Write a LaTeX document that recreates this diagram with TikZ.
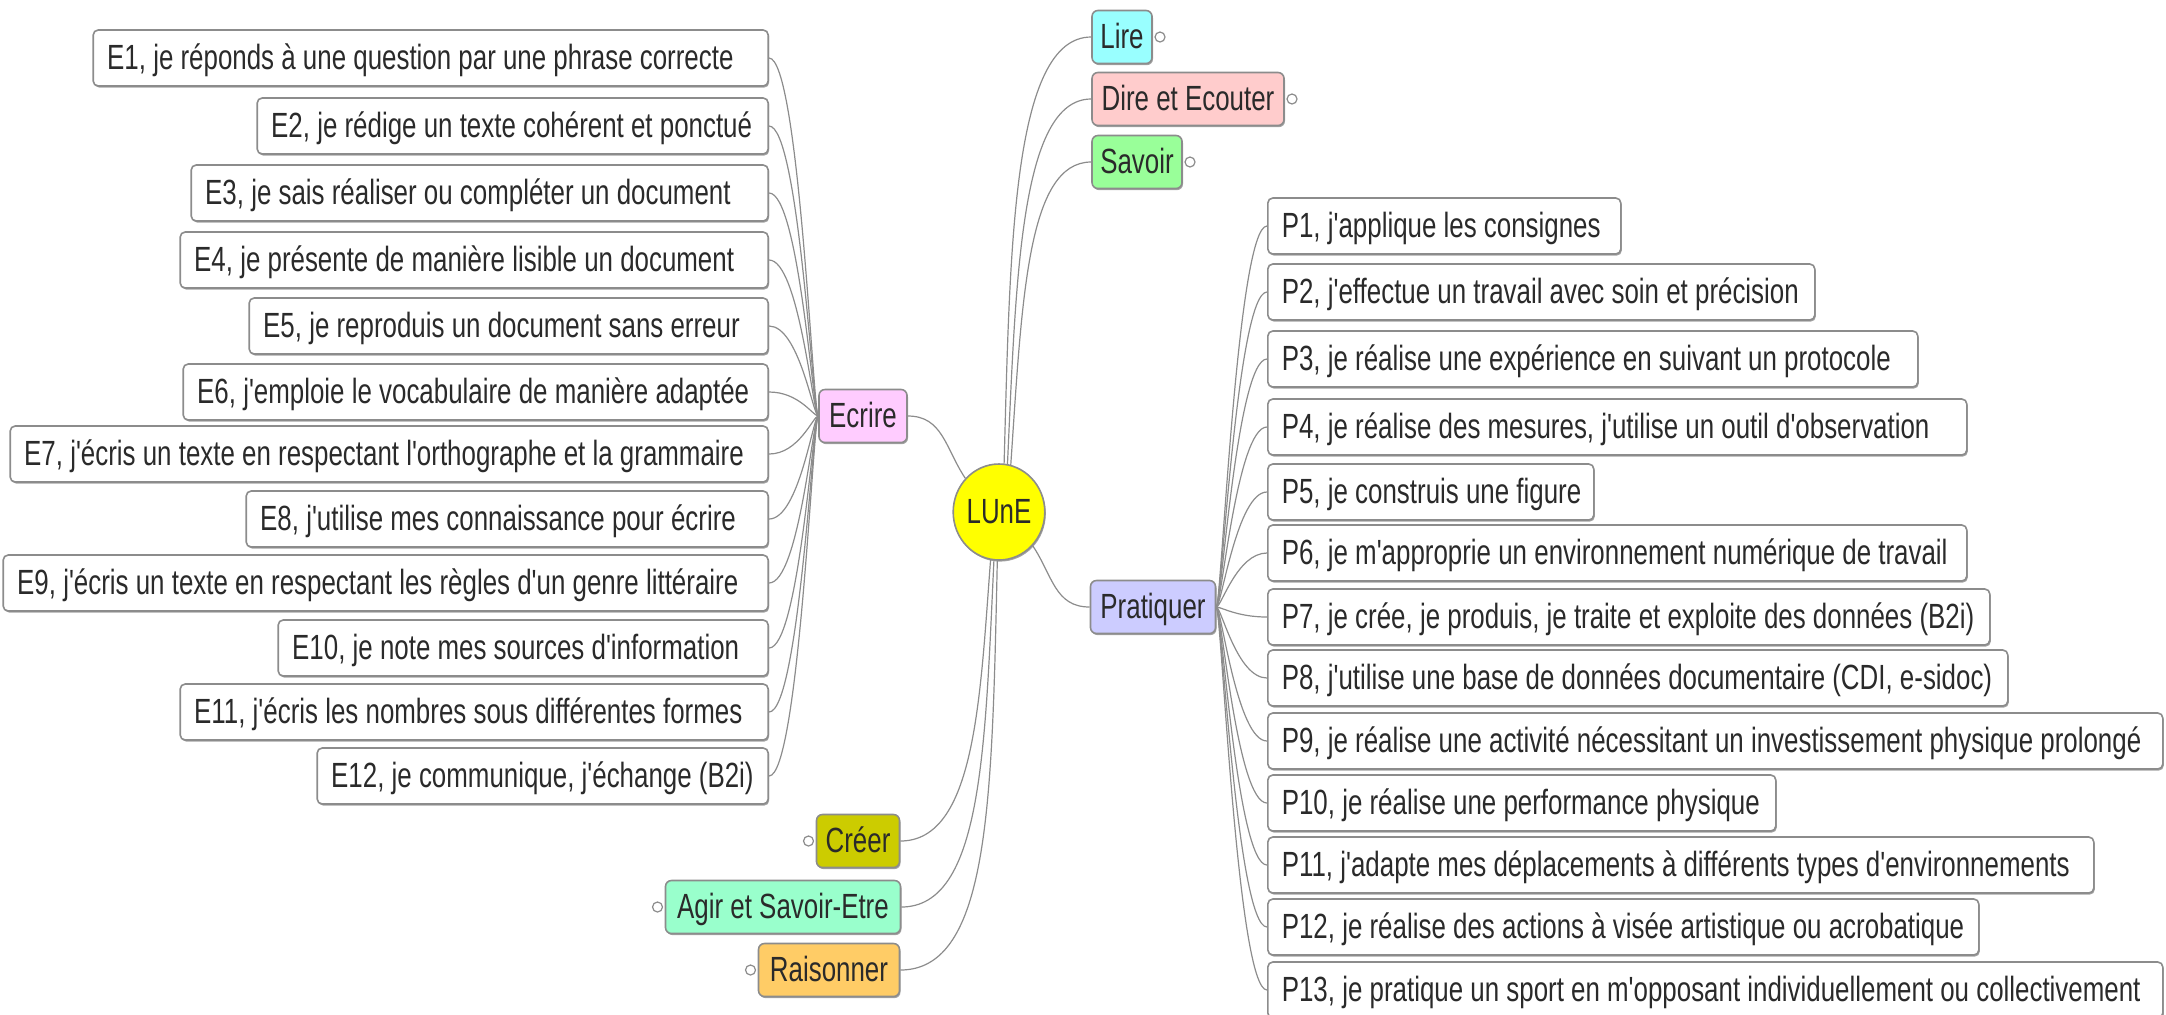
\documentclass[tikz,border=0pt]{standalone}
\usepackage{fontspec}
\setmainfont[FakeStretch=0.74,Ligatures=TeXOff]{Liberation Sans}
\usetikzlibrary{shapes.geometric,shadows}
\definecolor{txt}{HTML}{2A2A2A}
\definecolor{bord}{HTML}{8C8C8C}
\definecolor{lin}{HTML}{8C8C8C}
\definecolor{cLire}{HTML}{99FFFF}
\definecolor{cDire}{HTML}{FFCCCC}
\definecolor{cSavoir}{HTML}{99FF99}
\definecolor{cEcrire}{HTML}{FFCCFF}
\definecolor{cPrat}{HTML}{CCCCFF}
\definecolor{cCreer}{HTML}{CCCC00}
\definecolor{cAgir}{HTML}{99FFCC}
\definecolor{cRais}{HTML}{FFCC66}
\definecolor{cLune}{HTML}{FFFF00}
\newcommand{\tb}[2]{\makebox[#1pt][l]{#2}}
\begin{document}
\begin{tikzpicture}[x=0.5pt,y=-0.5pt,
  font=\fontsize{17.5}{20}\selectfont,
  shad/.style={drop shadow={shadow xshift=0.5pt,shadow yshift=-0.8pt,fill=black!60,opacity=0.6}},
  leaf/.style={shad,draw=bord,line width=0.8pt,fill=white,rounded corners=2.5pt,
    minimum height=28pt,inner xsep=7pt,inner ysep=0pt,text=txt,
    text height=14pt,text depth=3pt},
  mainbox/.style={shad,draw=bord,line width=0.8pt,rounded corners=3pt,
    minimum height=26.5pt,inner xsep=3pt,inner ysep=0pt,text=txt,
    text height=14pt,text depth=3pt},
  fold/.style={circle,draw=bord,fill=white,line width=0.6pt,inner sep=0pt,minimum size=5pt},
  conn/.style={draw=lin,line width=0.6pt}]
\path[use as bounding box] (0,0) rectangle (2166,1014);

% centre
\node[ellipse,draw=bord,line width=0.8pt,fill=cLune,text=txt,minimum width=42pt,minimum height=48pt,inner sep=0pt,shad] (lune) at (999,512) {LUnE};

% main branches
\node[mainbox,fill=cLire,minimum width=30pt] (lire) at (1122,37) {Lire};
\node[mainbox,fill=cDire,minimum width=96pt] (dire) at (1188,99) {Dire et Ecouter};
\node[mainbox,fill=cSavoir,minimum width=45pt] (savoir) at (1137,162) {Savoir};
\node[mainbox,fill=cEcrire,minimum width=44pt] (ecrire) at (863,416) {Ecrire};
\node[mainbox,fill=cPrat,minimum width=62.5pt] (prat) at (1153,607) {Pratiquer};
\node[mainbox,fill=cCreer,minimum width=41.5pt] (creer) at (858,841) {Créer};
\node[mainbox,fill=cAgir,minimum width=117.5pt] (agir) at (783,907) {Agir et Savoir-Etre};
\node[mainbox,fill=cRais,minimum width=70.5pt] (rais) at (829,970) {Raisonner};

% fold markers
\node[fold,anchor=west] (lireF) at ([xshift=0.8pt]lire.east) {};
\node[fold,anchor=west] (direF) at ([xshift=0.8pt]dire.east) {};
\node[fold,anchor=west] (savoirF) at ([xshift=0.8pt]savoir.east) {};
\node[fold,anchor=east] (creerF) at ([xshift=-0.8pt]creer.west) {};
\node[fold,anchor=east] (agirF) at ([xshift=-0.8pt]agir.west) {};
\node[fold,anchor=east] (raisF) at ([xshift=-0.8pt]rais.west) {};

% E leaves
\node[leaf,anchor=east] (e1) at (769,58) {\tb{323.5}{E1, je réponds à une question par une phrase correcte}};
\node[leaf,anchor=east] (e2) at (769,126) {\tb{241.5}{E2, je rédige un texte cohérent et ponctué}};
\node[leaf,anchor=east] (e3) at (769,193) {\tb{274.5}{E3, je sais réaliser ou compléter un document}};
\node[leaf,anchor=east] (e4) at (769,260) {\tb{280}{E4, je présente de manière lisible un document}};
\node[leaf,anchor=east] (e5) at (769,326) {\tb{245.5}{E5, je reproduis un document sans erreur}};
\node[leaf,anchor=east] (e6) at (769,392) {\tb{278.5}{E6, j'emploie le vocabulaire de manière adaptée}};
\node[leaf,anchor=east] (e7) at (769,454) {\tb{365}{E7, j'écris un texte en respectant l'orthographe et la grammaire}};
\node[leaf,anchor=east] (e8) at (769,519) {\tb{247}{E8, j'utilise mes connaissance pour écrire}};
\node[leaf,anchor=east] (e9) at (769,583) {\tb{368.5}{E9, j'écris un texte en respectant les règles d'un genre littéraire}};
\node[leaf,anchor=east] (e10) at (769,648) {\tb{231}{E10, je note mes sources d'information}};
\node[leaf,anchor=east] (e11) at (769,712) {\tb{280}{E11, j'écris les nombres sous différentes formes}};
\node[leaf,anchor=east] (e12) at (769,776) {\tb{211.5}{E12, je communique, j'échange (B2i)}};

% P leaves
\node[leaf,anchor=west] (p1) at (1267,226) {\tb{162.5}{P1, j'applique les consignes}};
\node[leaf,anchor=west] (p2) at (1267,292) {\tb{259.5}{P2, j'effectue un travail avec soin et précision}};
\node[leaf,anchor=west] (p3) at (1267,359) {\tb{311}{P3, je réalise une expérience en suivant un protocole}};
\node[leaf,anchor=west] (p4) at (1267,427) {\tb{335.5}{P4, je réalise des mesures, j'utilise un outil d'observation}};
\node[leaf,anchor=west] (p5) at (1267,492) {\tb{149}{P5, je construis une figure}};
\node[leaf,anchor=west] (p6) at (1267,553) {\tb{335.5}{P6, je m'approprie un environnement numérique de travail}};
\node[leaf,anchor=west] (p7) at (1267,617) {\tb{347}{P7, je crée, je produis, je traite et exploite des données (B2i)}};
\node[leaf,anchor=west] (p8) at (1267,678) {\tb{356}{P8, j'utilise une base de données documentaire (CDI, e-sidoc)}};
\node[leaf,anchor=west] (p9) at (1267,741) {\tb{433.5}{P9, je réalise une activité nécessitant un investissement physique prolongé}};
\node[leaf,anchor=west] (p10) at (1267,803) {\tb{240}{P10, je réalise une performance physique}};
\node[leaf,anchor=west] (p11) at (1267,865) {\tb{399}{P11, j'adapte mes déplacements à différents types d'environnements}};
\node[leaf,anchor=west] (p12) at (1267,927) {\tb{341.5}{P12, je réalise des actions à visée artistique ou acrobatique}};
\node[leaf,anchor=west] (p13) at (1267,990) {\tb{433.5}{P13, je pratique un sport en m'opposant individuellement ou collectivement}};

% connectors from centre
\draw[conn] (lune.84) .. controls (1010,250) and (1012,37) .. (lire.west);
\draw[conn] (lune.80) .. controls (1016,280) and (1020,99) .. (dire.west);
\draw[conn] (lune.76) .. controls (1022,300) and (1027,162) .. (savoir.west);
\draw[conn] (lune.-100) .. controls (980,700) and (975,841) .. (creer.east);
\draw[conn] (lune.-96) .. controls (985,750) and (982,907) .. (agir.east);
\draw[conn] (lune.-92) .. controls (992,800) and (990,970) .. (rais.east);
\draw[conn] (lune.135) .. controls +(-20,-30) and +(35,0) .. (ecrire.east);
\draw[conn] (lune.-45) .. controls +(20,30) and +(-35,0) .. (prat.west);

% E connectors
\foreach \e in {e1,e2,e3,e4,e5,e6,e7,e8,e9,e10,e11,e12}
  \draw[conn] (ecrire.west) .. controls +(-5,0) and +(30,0) .. (\e.east);
% P connectors
\foreach \p in {p1,p2,p3,p4,p5,p6,p7,p8,p9,p10,p11,p12,p13}
  \draw[conn] (prat.east) .. controls +(5,0) and +(-30,0) .. (\p.west);
\end{tikzpicture}
\end{document}
